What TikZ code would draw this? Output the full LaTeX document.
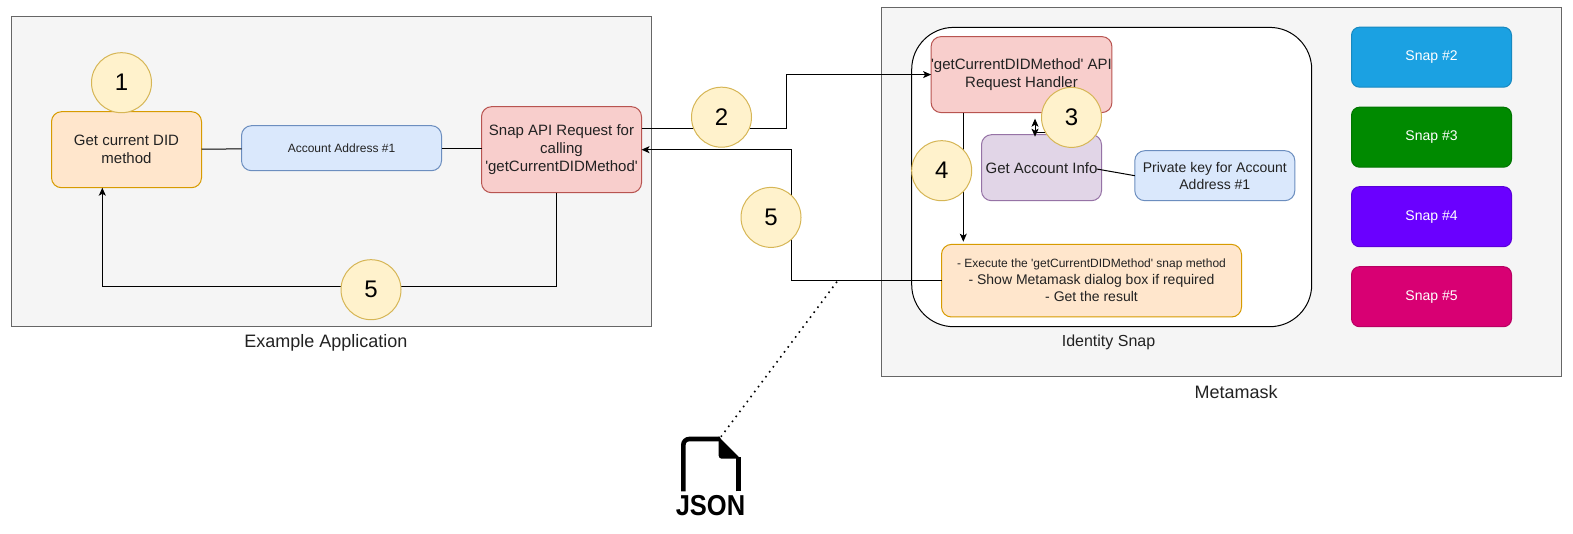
\documentclass[tikz,border=0pt]{standalone}
\usepackage{fontspec}
\usepackage{graphicx}
\setmainfont{Liberation Sans}[Ligatures=TeXOff]
\definecolor{pdgray}{HTML}{F5F5F5}
\definecolor{pdgrayline}{HTML}{666666}
\definecolor{pdorange}{HTML}{FFE6CC}
\definecolor{pdorangeline}{HTML}{D79B00}
\definecolor{pdblue}{HTML}{DAE8FC}
\definecolor{pdblueline}{HTML}{6C8EBF}
\definecolor{pdred}{HTML}{F8CECC}
\definecolor{pdredline}{HTML}{B85450}
\definecolor{pdpurple}{HTML}{E1D5E7}
\definecolor{pdpurpleline}{HTML}{9673A6}
\definecolor{pdyellow}{HTML}{FFF2CC}
\definecolor{pdyellowline}{HTML}{D6B656}
\definecolor{pdtext}{HTML}{222222}
\usetikzlibrary{arrows.meta,positioning,calc}
\newcommand{\fsmall}{\fontsize{12}{14.4}\selectfont}
\newcommand{\fmid}{\fontsize{14}{17}\selectfont}
\newcommand{\fmain}{\fontsize{15}{18}\selectfont}
\newcommand{\flabel}{\fontsize{18}{21}\selectfont}
\tikzset{
    card/.style={
        draw=#1line, fill=#1, rounded corners=10pt, line width=1pt,
        inner sep=0pt, outer sep=0pt, align=center, text=pdtext, font=\fmain
    },
    card/.default=pdblue,
    snapcard/.style={
        draw=#1!85!black, fill=#1, rounded corners=8pt, line width=1pt,
        minimum width=160pt, minimum height=60pt, inner sep=0pt, outer sep=0pt,
        align=center, text=white, font=\fontsize{14}{17}\selectfont
    },
    stepnum/.style={
        circle, draw=pdyellowline, fill=pdyellow, line width=1pt, minimum size=60pt,
        inner sep=0pt, outer sep=0pt, text=black, font=\fontsize{24}{28}\selectfont
    },
    panel/.style={
        draw=pdgrayline, fill=pdgray, line width=1pt, inner sep=0pt, outer sep=0pt
    },
    caption/.style={text=pdtext, inner sep=0pt}
}
\definecolor{snapblue}{HTML}{1BA1E2}
\definecolor{snapgreen}{HTML}{008A00}
\definecolor{snapviolet}{HTML}{6A00FF}
\definecolor{snapred}{HTML}{D80073}

\begin{document}
\begin{tikzpicture}[x=1pt, y=-1pt, line width=1pt,
    flow/.style={-{Stealth[length=8pt,width=7pt,inset=2pt]}}]
    \useasboundingbox (0,-0.7) rectangle (1573,533.3);
    % containers
    \node[panel, minimum width=640pt, minimum height=310pt] (app) at (331.5,171) {};
    \node[panel, minimum width=680.5pt, minimum height=369pt] (metamask) at (1221.7,191.5) {};
    \draw[fill=white, rounded corners=42pt] (911.7,26.7) rectangle (1311.7,326);
    \node[caption, font=\flabel] (applabel) at (326,342) {Example Application};
    \node[caption, font=\fontsize{16}{19}\selectfont] (identitylabel) at (1108.5,341.5) {Identity Snap};
    \node[caption, font=\flabel] (metamasklabel) at (1236,391.5) {Metamask};

    % application
    \node[card=pdorange, minimum width=150pt, minimum height=76pt] (did) at (126.5,149) {Get current DID\\method};
    \node[card=pdblue, minimum width=200pt, minimum height=45pt, font=\fsmall] (account) at (341.5,147.5) {Account Address \#1};
    \node[card=pdred, minimum width=160pt, minimum height=86pt] (snapreq) at (561.5,149) {Snap API Request for\\calling\\'getCurrentDIDMethod'};

    % identity snap
    \node[card=pdred, minimum width=180pt, minimum height=76pt] (handler) at (1021.5,73.9) {'getCurrentDIDMethod' API\\Request Handler};
    \node[card=pdpurple, minimum width=120pt, minimum height=66pt] (info) at (1041.5,167) {Get Account Info};
    \node[card=pdblue, minimum width=160pt, minimum height=50pt, font=\fontsize{14}{17}\selectfont] (privkey) at (1214.8,175) {Private key for Account\\Address \#1};
    \node[card=pdorange, minimum width=300pt, minimum height=72.6pt, font=\fmid] (execute) at (1091.5,280) {{\fsmall - Execute the 'getCurrentDIDMethod' snap method}\\- Show Metamask dialog box if required\\- Get the result};

    % snaps
    \node[snapcard=snapblue] (snaptwo) at (1431.5,56.5) {Snap \#2};
    \node[snapcard=snapgreen] (snapthree) at (1431.5,136.5) {Snap \#3};
    \node[snapcard=snapviolet] (snapfour) at (1431.5,216) {Snap \#4};
    \node[snapcard=snapred] (snapfive) at (1431.5,296) {Snap \#5};

    % connectors
    \coordinate (reqout) at (641.5,127.4);
    \coordinate (reqdown) at (556.4,192);
    \coordinate (didup) at (102.3,187);
    \coordinate (handlerdown) at (963.3,111.9);
    \coordinate (execin) at (963.3,241);
    \coordinate (loopup) at (1035,118);
    \coordinate (loopdown) at (1035,136);
    \coordinate (loopmid) at (1035,131.7);
    \coordinate (loopend) at (1046,131.7);
    \coordinate (infotext) at (1096.7,168.3);
    \coordinate (dotstart) at (837,281);
    \coordinate (dotend) at (721,436);
    \draw (did) -- (account);
    \draw (account.east) -- (account.east -| snapreq.west);
    \draw[flow] (reqout) -- (786.5,127.4) -- (786.5,73.9) -- (handler.west);
    \draw[flow] (execute.west) -- (791.7,280) -- (791.7,149) -- (snapreq.east);
    \draw[flow] (reqdown) -- (556.4,286) -- (102.3,286) -- (didup);
    \draw[flow] (handlerdown) -- (execin);
    \draw[{Stealth[length=8pt,width=7pt,inset=2pt]}-{Stealth[length=8pt,width=7pt,inset=2pt]}] (loopup) -- (loopdown);
    \draw (loopmid) -- (loopend);
    \draw (infotext) -- (privkey.west);
    \draw[line width=1.6pt, dash pattern=on 1.6pt off 4.6pt] (dotstart) -- (dotend);

    % steps
    \node[stepnum] (one) at (121.5,82) {1};
    \node[stepnum] (two) at (721.5,116.5) {2};
    \node[stepnum] (three) at (1071.5,116.7) {3};
    \node[stepnum] (four) at (941.7,170) {4};
    \node[stepnum] (fiveleft) at (371,289) {5};
    \node[stepnum] (fivemid) at (771,216.7) {5};

    % json icon
    \draw[line width=4.6pt, rounded corners=6pt] (683.3,490.7) -- (683.3,438.3) -- (720,438.3);
    \draw[line width=4.6pt] (738.3,490.7) -- (738.3,456.5);
    \fill[rounded corners=3pt] (718.7,436) -- (718.7,458) -- (740.6,458) [sharp corners] -- cycle;
    \node[inner sep=0pt, font=\fontsize{25.5}{26}\selectfont\bfseries] (jsonlabel) at (710.5,505) {\scalebox{1}[1.13]{JSON}};
\end{tikzpicture}
\end{document}
